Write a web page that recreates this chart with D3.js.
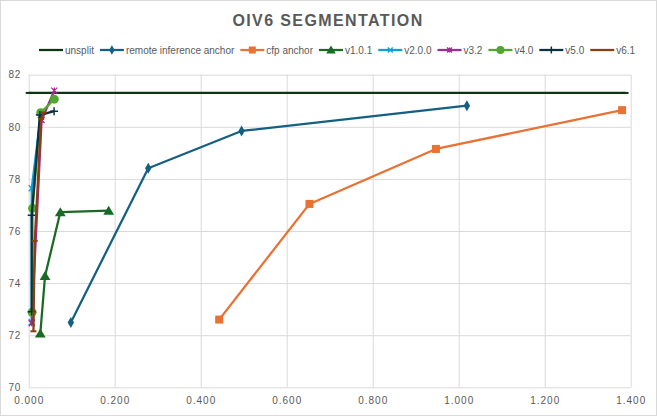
<!DOCTYPE html>
<html>
<head>
<meta charset="utf-8">
<script src="https://cdn.jsdelivr.net/npm/d3@7"></script>
<style>
  body { margin: 0; background: #fff; }
  svg { display: block; font-family: "Liberation Sans", Arial, sans-serif; }
</style>
</head>
<body>
<div id="chart"></div>
<script>
// datos
const seriesNames = ["unsplit", "remote inference anchor", "cfp anchor", "v1.0.1", "v2.0.0", "v3.2", "v4.0", "v5.0", "v6.1"];
const unsplitX = [0, 1.388];
const unsplitY = [81.3, 81.3];
const remoteX = [0.098, 0.278, 0.495, 1.019];
const remoteY = [72.49, 78.41, 79.84, 80.81];
const cfpX = [0.443, 0.653, 0.947, 1.380];
const cfpY = [72.6, 77.04, 79.15, 80.64];
const v101X = [0.027, 0.038, 0.0735, 0.186];
const v101Y = [72.07, 74.27, 76.72, 76.78];
const v200X = [0.007, 0.007, 0.028];
const v200Y = [72.5, 77.64, 80.45];
const v32X = [0.007, 0.030, 0.0595];
const v32Y = [72.46, 80.26, 81.39];
const v40X = [0.008, 0.009, 0.028, 0.0595];
const v40Y = [72.88, 76.87, 80.54, 81.06];
const v50X = [0.007, 0.007, 0.026, 0.059];
const v50Y = [72.9, 76.6, 80.45, 80.6];
const v61X = [0.011, 0.014, 0.029, 0.035];
const v61Y = [72.15, 75.62, 80.3, 80.55];
const xTicks = [0, 0.2, 0.4, 0.6, 0.8, 1.0, 1.2, 1.4];
const yTicks = [70, 72, 74, 76, 78, 80, 82];

const colors = ["#0d3512", "#156082", "#e97132", "#196b24", "#0f9ed5", "#a02b93", "#4ea72e", "#0b3041", "#8b3e10"];
const markers = ["dash", "diamond", "square", "triangle", "x", "star", "circle", "plus", "dash"];
const xs = [unsplitX, remoteX, cfpX, v101X, v200X, v32X, v40X, v50X, v61X];
const ys = [unsplitY, remoteY, cfpY, v101Y, v200Y, v32Y, v40Y, v50Y, v61Y];

const series = seriesNames.map((name, i) => ({
    name,
    color: colors[i],
    marker: markers[i],
    values: xs[i].map((x, j) => ({ x, y: ys[i][j] }))
}));

const W = 657, H = 416;
const margin = { top: 74.7, right: 26.3, bottom: 28.7, left: 28.7 };
const width = W - margin.left - margin.right;
const height = H - margin.top - margin.bottom;

const root = d3.select("#chart").append("svg")
    .attr("width", W)
    .attr("height", H);

// borde del area del grafico
root.append("rect")
    .attr("x", 0.5).attr("y", 0.5)
    .attr("width", W - 1).attr("height", H - 1)
    .attr("fill", "#fff")
    .attr("stroke", "#d9d9d9");

// titulo
root.append("text")
    .attr("x", 328)
    .attr("y", 26)
    .attr("text-anchor", "middle")
    .attr("fill", "#595959")
    .style("font-size", "16px")
    .style("font-weight", "bold")
    .style("letter-spacing", "1.4px")
    .text("OIV6 SEGMENTATION");

const svg = root.append("g")
    .attr("transform", `translate(${margin.left}, ${margin.top})`);

const x = d3.scaleLinear().domain([0, 1.4]).range([0, width]);
const y = d3.scaleLinear().domain([70, 82]).range([height, 0]);

// ejes con lineas de cuadricula
const gx = svg.append("g")
    .attr("transform", `translate(0, ${height})`)
    .call(d3.axisBottom(x).tickValues(xTicks).tickFormat(d3.format(".3f")).tickSize(-height).tickPadding(10));
const gy = svg.append("g")
    .call(d3.axisLeft(y).tickValues(yTicks).tickSize(-width).tickPadding(8));

[gx, gy].forEach(g => {
    g.select(".domain").remove();
    g.selectAll(".tick line").attr("stroke", "#d9d9d9").attr("stroke-width", 1);
    g.selectAll(".tick text")
        .attr("fill", "#595959")
        .style("font-size", "10px")
        .style("font-family", "'Liberation Sans', Arial, sans-serif");
});
gx.selectAll(".tick text").style("letter-spacing", "1px");
gy.selectAll(".tick text").style("letter-spacing", "0.5px");

function drawMarker(g, type, color, s) {
    if (type === "diamond") {
        g.append("path").attr("d", d3.symbol(d3.symbolDiamond, s * s * 0.55)()).attr("fill", color);
    } else if (type === "square") {
        g.append("rect").attr("x", -s / 2).attr("y", -s / 2).attr("width", s).attr("height", s).attr("fill", color);
    } else if (type === "triangle") {
        g.append("path").attr("d", `M0,${-s * 0.55}L${s * 0.6},${s * 0.45}L${-s * 0.6},${s * 0.45}Z`).attr("fill", color);
    } else if (type === "circle") {
        g.append("circle").attr("r", s / 2).attr("fill", color);
    } else if (type === "x") {
        const h = s / 2 - 0.5;
        g.append("path").attr("d", `M${-h},${-h}L${h},${h}M${-h},${h}L${h},${-h}`)
            .attr("stroke", color).attr("stroke-width", 1.3);
    } else if (type === "star") {
        const h = s / 2 - 0.5;
        g.append("path").attr("d", `M${-h},${-h}L${h},${h}M${-h},${h}L${h},${-h}M0,${-h}V${h}`)
            .attr("stroke", color).attr("stroke-width", 1.3);
    } else if (type === "plus") {
        const h = s / 2;
        g.append("path").attr("d", `M${-h},0H${h}M0,${-h}V${h}`)
            .attr("stroke", color).attr("stroke-width", 1.5);
    } else if (type === "dash") {
        g.append("path").attr("d", `M${-s / 2},0H${s / 2}`)
            .attr("stroke", color).attr("stroke-width", 2);
    }
}

const markerSize = { diamond: 8, square: 8, triangle: 9, circle: 9, x: 7, star: 7, plus: 8, dash: 6 };

const line = d3.line().x(d => x(d.x)).y(d => y(d.y));

series.forEach(s => {
    const g = svg.append("g");
    g.append("path")
        .datum(s.values)
        .attr("fill", "none")
        .attr("stroke", s.color)
        .attr("stroke-width", 2.25)
        .attr("stroke-linejoin", "round")
        .attr("d", line);
    s.values.forEach(d => {
        const m = g.append("g").attr("transform", `translate(${x(d.x)}, ${y(d.y)})`);
        drawMarker(m, s.marker, s.color, markerSize[s.marker]);
    });
});

// leyenda
const legend = root.append("g").attr("transform", "translate(39, 50)");
let lx = 0;
series.forEach(s => {
    const item = legend.append("g").attr("transform", `translate(${lx}, 0)`);
    item.append("line")
        .attr("x1", 0).attr("x2", 24)
        .attr("stroke", s.color).attr("stroke-width", 2.25);
    const m = item.append("g").attr("transform", "translate(12, 0)");
    drawMarker(m, s.marker, s.color, markerSize[s.marker] - 1);
    const t = item.append("text")
        .attr("x", 26)
        .attr("y", 3.5)
        .attr("fill", "#595959")
        .style("font-size", "10px")
        .text(s.name);
    lx += 26 + t.node().getComputedTextLength() + 6;
});
</script>
</body>
</html>
